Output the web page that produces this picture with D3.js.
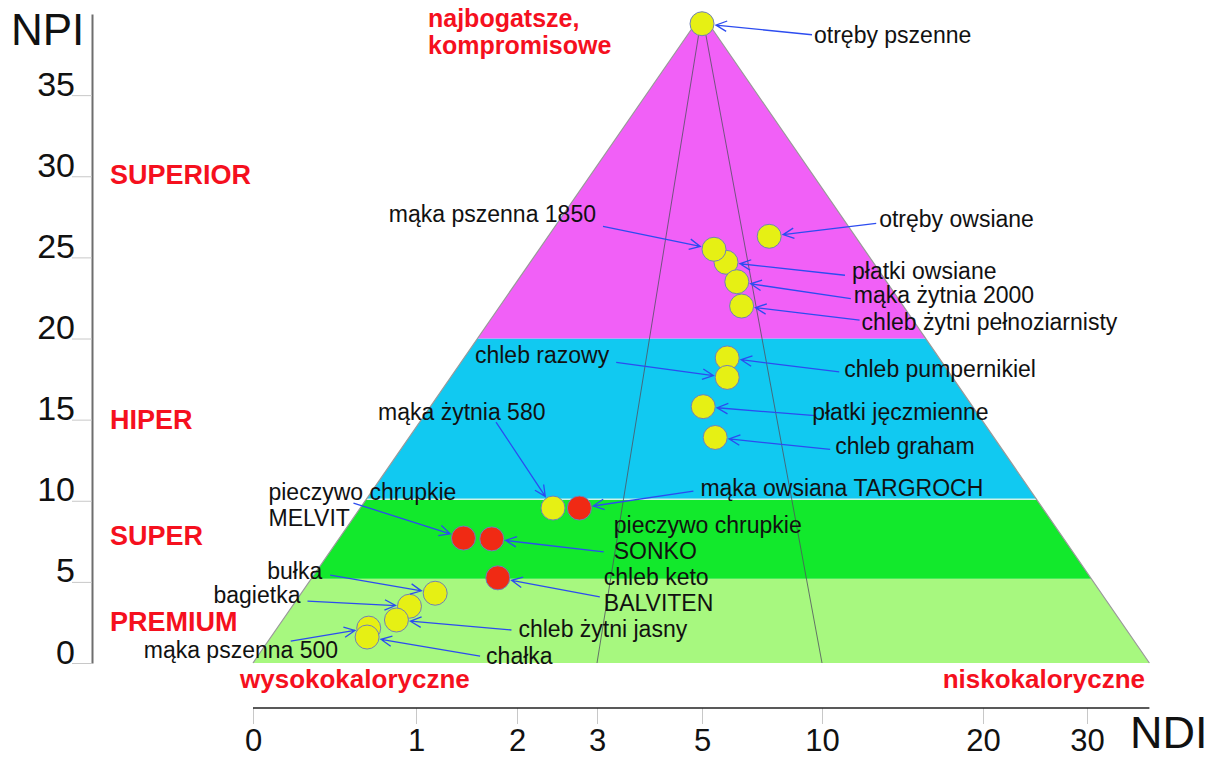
<!DOCTYPE html>
<html>
<head>
<meta charset="utf-8">
<script src="https://cdnjs.cloudflare.com/ajax/libs/d3/7.8.5/d3.min.js"></script>
<style>
body{margin:0;background:#fff;}
svg{display:block;font-family:"Liberation Sans",Arial,sans-serif;}
</style>
</head>
<body>
<div id="pyramid-chart"></div>
<script>
// products, listed in drawing order (later ones sit on top)
var products = ["otręby pszenne", "otręby owsiane", "płatki owsiane", "mąka pszenna 1850", "mąka żytnia 2000",
    "chleb żytni pełnoziarnisty", "chleb pumpernikiel", "chleb razowy", "płatki jęczmienne", "chleb graham",
    "mąka żytnia 580", "mąka owsiana TARGROCH", "pieczywo chrupkie\nMELVIT", "pieczywo chrupkie\nSONKO",
    "chleb keto\nBALVITEN", "bułka", "bagietka", "chleb żytni jasny", "mąka pszenna 500", "chałka"];
var ndiValues = [5.0, 7.8, 6.0, 5.5, 6.45, 6.65, 6.05, 6.05, 5.05, 5.55, 2.45, 2.78, 1.47, 1.75, 1.81, 1.19, 0.96, 0.88, 0.71, 0.70];
var npiValues = [39.4, 26.3, 24.7, 25.5, 23.5, 22.0, 18.8, 17.6, 15.8, 13.9, 9.55, 9.55, 7.7, 7.65, 5.25, 4.3, 3.5, 2.65, 2.15, 1.6];
var branded = [0, 0, 0, 0, 0, 0, 0, 0, 0, 0, 0, 1, 1, 1, 1, 0, 0, 0, 0, 0];

var npiTicks = [0, 5, 10, 15, 20, 25, 30, 35];
var ndiTicks = [0, 1, 2, 3, 5, 10, 20, 30];

// classes of the pyramid (bottom -> top)
var classNames = ["PREMIUM", "SUPER", "HIPER", "SUPERIOR"];
var classBreaks = [0, 5.2, 10.1, 20, 40];

// pyramid corners (NDI, NPI) and inner guide lines
var triNDI = [0, 5, 36];
var triNPI = [0, 40, 0];
var guideNDI = [3, 10];

// ---- layout ----
var w = 1215, h = 758;
var r = 12;
var bandColors = ["#a7f87f", "#12e92c", "#11c9f1", "#f160f7"];
var classLabelNPI = [2.0, 7.3, 14.4, 29.5];
// label offset from point [dx, dy, anchor] and arrow start offset [dx, dy]
var labelOffset = [[112,19,"start"],[110,-9,"start"],[126,17,"start"],[-118,-27,"end"],[117,21,"start"],
    [120,24,"start"],[117,19,"start"],[-118,-14,"end"],[109,13,"start"],[120,17,"start"],
    [-175,-88,"start"],[121,-12,"start"],[-195,-38,"start"],[122,-6,"start"],[106,7,"start"],
    [-168,-14,"start"],[-196,-3,"start"],[122,17,"start"],[-225,30,"start"],[119,27,"start"]];
var arrowFrom = [[110,11],[107,-13],[119,13],[-111,-23],[114,17],
    [118,14],[112,14],[-111,-15],[112,9],[115,12],
    [-57,-86],[114,-17],[-110,-35],[112,13],[102,19],
    [-105,-18],[-102,-5],[115,10],[-78,13],[113,19]];

var svg = d3.select("#pyramid-chart").append("svg").attr("width", w).attr("height", h);

var xScale = d3.scaleLinear().domain(ndiTicks).range([253, 416, 517, 597, 702, 822, 983, 1087]);
var yScale = d3.scaleLinear().domain([0, 40]).range([663, 14]);

var L = [xScale(triNDI[0]), yScale(triNPI[0])];
var A = [xScale(triNDI[1]), yScale(triNPI[1])];
var R = [xScale(triNDI[2]), yScale(triNPI[2])];

var edgeX = function(p, q, y){ return p[0] + (q[0] - p[0]) * (y - p[1]) / (q[1] - p[1]); };

// bands
var bands = svg.append("g");
classNames.forEach(function(c, i){
    var y0 = yScale(classBreaks[i]), y1 = yScale(classBreaks[i+1]);
    var pts;
    if (classBreaks[i+1] >= triNPI[1]) {
        pts = [[edgeX(L, A, y0), y0], A, [edgeX(R, A, y0), y0]];
    } else {
        pts = [[edgeX(L, A, y0), y0], [edgeX(L, A, y1), y1], [edgeX(R, A, y1), y1], [edgeX(R, A, y0), y0]];
    }
    bands.append("polygon").attr("points", pts.map(function(p){ return p.join(","); }).join(" "))
        .attr("fill", bandColors[i]);
});
// light seam on top of the green band
var ys = yScale(classBreaks[2]);
bands.append("line").attr("x1", edgeX(L, A, ys)).attr("x2", edgeX(R, A, ys)).attr("y1", ys).attr("y2", ys)
    .attr("stroke", "#cdf3e6").attr("stroke-width", 1.5);

// sides
svg.append("path").attr("d", "M" + L + "L" + A + "L" + R).attr("fill", "none")
    .attr("stroke", "#999").attr("stroke-width", 1.2);

// guide lines
svg.selectAll(".guide").data(guideNDI).enter().append("line")
    .attr("x1", A[0]).attr("y1", A[1])
    .attr("x2", function(d){ return xScale(d); }).attr("y2", yScale(0))
    .attr("stroke", "#505060").attr("stroke-width", 0.8);

// NPI axis
var yAxis = svg.append("g").attr("transform", "translate(92,0)")
    .call(d3.axisLeft(yScale).tickValues(npiTicks).tickSize(20).tickSizeOuter(0));
yAxis.attr("font-family", null).attr("font-size", 34);
yAxis.select(".domain").attr("stroke", "#6e6e6e").attr("stroke-width", 2);
yAxis.selectAll(".tick line").attr("stroke", "#c8c8c8");
yAxis.selectAll(".tick text").attr("x", -17).attr("dy", "0").attr("fill", "#111");

// NDI axis
var xAxis = svg.append("g").attr("transform", "translate(0,708)")
    .call(d3.axisBottom(xScale).tickValues(ndiTicks).tickSize(16).tickSizeOuter(0));
xAxis.attr("font-family", null).attr("font-size", 31);
xAxis.select(".domain").remove();
xAxis.selectAll(".tick line").attr("stroke", "#c8c8c8");
xAxis.selectAll(".tick text").attr("y", 43).attr("dy", "0").attr("fill", "#111");
xAxis.append("line").attr("x1", xScale(0)).attr("x2", xScale(triNDI[2])).attr("stroke", "#222").attr("stroke-width", 1.6);

svg.append("text").attr("x", 11).attr("y", 45).attr("font-size", 44).attr("fill", "#111").text("NPI");
svg.append("text").attr("x", 1130).attr("y", 748).attr("font-size", 45).attr("fill", "#111").text("NDI");

// red captions
var red = "#f5101e";
svg.selectAll(".cls").data(classNames).enter().append("text")
    .attr("x", 110).attr("y", function(d, i){ return yScale(classLabelNPI[i]); })
    .attr("font-size", 27).attr("font-weight", "bold").attr("fill", red).text(function(d){ return d; });
var topCaption = svg.append("text").attr("font-size", 25).attr("font-weight", "bold").attr("fill", red);
topCaption.append("tspan").attr("x", 428).attr("y", 27).text("najbogatsze,");
topCaption.append("tspan").attr("x", 428).attr("y", 54).text("kompromisowe");
svg.append("text").attr("x", 240).attr("y", 688).attr("font-size", 26).attr("font-weight", "bold")
    .attr("fill", red).text("wysokokaloryczne");
svg.append("text").attr("x", 1145).attr("y", 688).attr("font-size", 26).attr("font-weight", "bold")
    .attr("fill", red).attr("text-anchor", "end").text("niskokaloryczne");

// points
var idx = d3.range(products.length);
svg.append("g").selectAll("circle").data(idx).enter().append("circle")
    .attr("cx", function(i){ return xScale(ndiValues[i]); })
    .attr("cy", function(i){ return yScale(npiValues[i]); })
    .attr("r", r)
    .attr("fill", function(i){ return branded[i] ? "#f02a14" : "#e6f014"; })
    .attr("stroke", "#7080b8").attr("stroke-width", 1);

// arrows
var arrowPath = function(i){
    var cx = xScale(ndiValues[i]), cy = yScale(npiValues[i]);
    var sx = cx + arrowFrom[i][0], sy = cy + arrowFrom[i][1];
    var dx = sx - cx, dy = sy - cy, len = Math.sqrt(dx*dx + dy*dy);
    var ux = dx / len, uy = dy / len;
    var tx = cx + ux * (r + 2), ty = cy + uy * (r + 2);
    var a = 0.45, hl = 12;
    var h1 = [tx + hl * (ux * Math.cos(a) - uy * Math.sin(a)), ty + hl * (uy * Math.cos(a) + ux * Math.sin(a))];
    var h2 = [tx + hl * (ux * Math.cos(a) + uy * Math.sin(a)), ty + hl * (uy * Math.cos(a) - ux * Math.sin(a))];
    return "M" + sx + "," + sy + "L" + tx + "," + ty + "M" + h1 + "L" + tx + "," + ty + "L" + h2;
};
svg.append("g").selectAll("path").data(idx).enter().append("path")
    .attr("d", arrowPath).attr("fill", "none").attr("stroke", "#2c4cf0").attr("stroke-width", 1.3);

// labels
var labels = svg.append("g").attr("font-size", 23).attr("fill", "#111");
idx.forEach(function(i){
    var cx = xScale(ndiValues[i]), cy = yScale(npiValues[i]);
    var t = labels.append("text").attr("text-anchor", labelOffset[i][2]);
    products[i].split("\n").forEach(function(line, k){
        t.append("tspan").attr("x", cx + labelOffset[i][0]).attr("y", cy + labelOffset[i][1] + k * 26).text(line);
    });
});
</script>
</body>
</html>
